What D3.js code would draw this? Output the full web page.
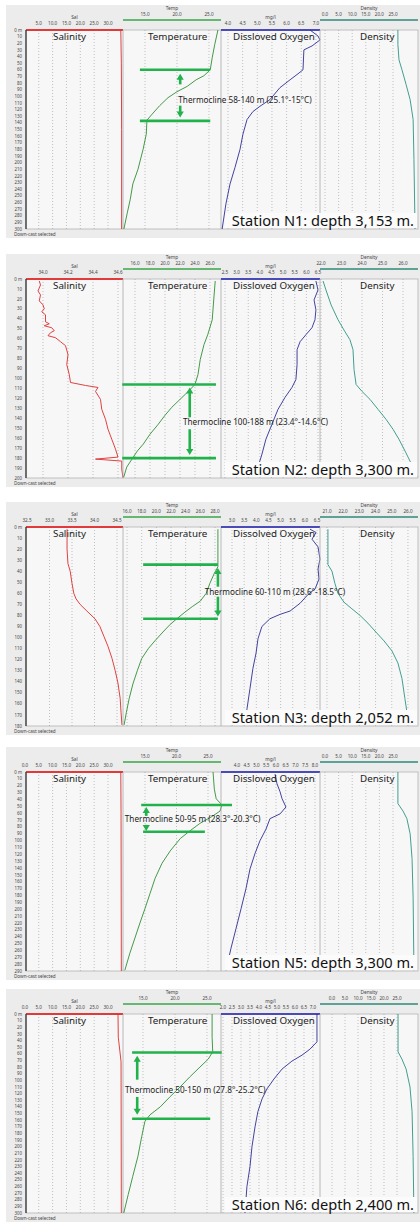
<!DOCTYPE html>
<html>
<head>
<meta charset="utf-8">
<script src="https://cdn.jsdelivr.net/npm/d3@7"></script>
<style>
body { margin: 0; background: #fff; }
svg { display: block; font-family: "Noto Sans", "Open Sans", sans-serif; }
</style>
</head>
<body>
<div id="main"></div>
<script>
// stations
var stations = ["N1", "N2", "N3", "N5", "N6"];
var stationDepths = ["3,153", "3,300", "2,052", "3,300", "2,400"];
var maxDepth = [300, 200, 180, 290, 300];
var oxygenTitles = ["Dissloved Oxygen", "Dissloved Oxygen", "Dissolved Oxygen", "Dissloved Oxygen", "Dissloved Oxygen"];

// axis domains (value at left / right edge of each column) and tick values
var salDomains = [[0.4, 35.4], [33.864, 34.64], [32.478, 34.633], [0.4, 35.4], [0.4, 35.4]];
var salTicks = [[5, 10, 15, 20, 25, 30], [34.0, 34.2, 34.4, 34.6], [32.5, 33.0, 33.5, 34.0, 34.5], [0, 5, 10, 15, 20, 25, 30], [0, 5, 10, 15, 20, 25, 30]];
var tempDomains = [[11.56, 26.88], [14.4, 27.47], [15.45, 28.82], [11.51, 27.06], [11.88, 27.19]];
var tempTicks = [[15, 20, 25], [16, 18, 20, 22, 24, 26], [16, 18, 20, 22, 24, 26, 28], [15, 20, 25], [15, 20, 25]];
var oxyDomains = [[3.761, 7.14], [2.328, 6.586], [2.547, 6.621], [3.179, 8.256], [1.889, 7.389]];
var oxyTicks = [
    [4.0, 4.5, 5.0, 5.5, 6.0, 6.5, 7.0],
    [2.5, 3.0, 3.5, 4.0, 4.5, 5.0, 5.5, 6.0, 6.5],
    [3.0, 3.5, 4.0, 4.5, 5.0, 5.5, 6.0, 6.5],
    [4.0, 4.5, 5.0, 5.5, 6.0, 6.5, 7.0, 7.5, 8.0],
    [2.0, 2.5, 3.0, 3.5, 4.0, 4.5, 5.0, 5.5, 6.0, 6.5, 7.0]
];
var densDomains = [[-1.84, 34.19], [21.95, 26.73], [20.57, 26.62], [-1.84, 34.19], [-4.62, 33.08]];
var densTicks = [[0, 5, 10, 15, 20, 25], [22, 23, 24, 25, 26], [21, 22, 23, 24, 25, 26], [0, 5, 10, 15, 20, 25], [0, 5, 10, 15, 20, 25]];

// thermocline notes: [depth, temp from, temp to] for both lines, arrows [temp, up from, up to, down from, down to], text [temp, depth]
var thermoLabels = ["Thermocline 58-140 m (25.1°-15°C)", "Thermocline 100-188 m (23.4°-14.6°C)", "Thermocline 60-110 m (28.6°-18.5°C)", "Thermocline 50-95 m (28.3°-20.3°C)", "Thermocline 50-150 m (27.8°-25.2°C)"];
var thermoTop = [[60, 14.2, 25.2], [106, 14.3, 26.8], [34, 18.2, 28.4], [48, 14.4, 28.8], [58, 13.3, 27.3]];
var thermoBottom = [[137, 14.2, 25.2], [180, 14.3, 26.8], [83, 18.2, 28.4], [87, 14.7, 24.5], [158, 13.3, 25.5]];
var thermoArrows = [[20.5, 82, 66, 114, 132], [23.3, 139, 109, 151, 177], [28.4, 54, 37, 63, 81], [15.2, 64, 51, 77, 86], [14.1, 99, 63, 125, 152]];
var thermoText = [[20.2, 105], [22.4, 144], [26.6, 59], [11.8, 68], [12.2, 114]];

// profiles: [depth m, value]
var n1Sal = [[0, 34.6], [50, 34.8], [150, 34.9], [300, 34.9]];
var n1Temp = [[0, 26.4], [22, 25.9], [42, 25.5], [60, 25.2], [69, 24.2], [75, 23.0], [85, 21.6], [93, 20.0], [102, 18.6], [114, 17.3], [127, 16.1], [136, 15.3], [157, 15.2], [180, 14.7], [210, 13.9], [232, 13.1], [255, 12.7], [277, 12.2], [300, 11.7]];
var n1Oxy = [[0, 6.80], [9, 7.07], [15, 7.14], [24, 6.87], [30, 6.59], [60, 6.56], [66, 6.39], [75, 6.12], [87, 5.77], [105, 5.43], [115, 5.09], [123, 4.85], [135, 4.65], [157, 4.51], [180, 4.41], [207, 4.24], [232, 4.07], [262, 3.93], [300, 3.80]];
var n1Dens = [[0, 26.8], [22, 26.8], [45, 27.2], [60, 28.3], [82, 29.8], [105, 31.3], [135, 32.4], [195, 32.7], [300, 33.1]];

var n2Sal = [[2, 33.97], [6, 33.98], [12, 33.96], [16, 33.98], [22, 33.97], [26, 34.00], [30, 34.01], [33, 33.99], [36, 34.02], [43, 34.02], [45, 34.05], [47, 34.01], [49, 34.07], [52, 34.09], [54, 34.06], [57, 34.04], [59, 34.10], [63, 34.14], [67, 34.18], [76, 34.20], [86, 34.19], [96, 34.21], [104, 34.22], [107, 34.34], [109, 34.44], [113, 34.42], [121, 34.46], [131, 34.47], [141, 34.50], [151, 34.52], [161, 34.55], [171, 34.58], [179, 34.60], [181, 34.42], [183, 34.63], [191, 34.63], [200, 34.64]];
var n2Temp = [[2, 26.7], [21, 26.5], [41, 26.3], [56, 25.7], [66, 25.2], [81, 24.7], [96, 24.4], [106, 24.0], [113, 23.1], [121, 22.0], [129, 20.9], [137, 20.0], [146, 19.1], [156, 18.0], [166, 17.1], [173, 16.3], [181, 15.6], [189, 14.9], [199, 14.5]];
var n2Oxy = [[2, 6.41], [11, 6.50], [21, 6.33], [31, 6.41], [41, 6.37], [49, 6.24], [56, 5.98], [63, 5.73], [71, 5.60], [86, 5.60], [101, 5.55], [109, 5.38], [119, 5.08], [131, 4.78], [146, 4.52], [161, 4.26], [176, 4.09], [189, 3.92], [199, 3.79]];
var n2Dens = [[2, 22.10], [11, 22.24], [26, 22.49], [41, 22.83], [53, 23.17], [61, 23.41], [71, 23.56], [91, 23.61], [106, 23.71], [113, 24.00], [121, 24.39], [131, 24.78], [141, 25.17], [151, 25.51], [161, 25.80], [173, 26.10], [183, 26.34], [191, 26.54], [199, 26.68]];

var n3Sal = [[2, 33.39], [20, 33.39], [33, 33.41], [40, 33.46], [51, 33.50], [60, 33.54], [65, 33.59], [70, 33.68], [76, 33.83], [83, 34.01], [90, 34.12], [99, 34.21], [108, 34.30], [119, 34.39], [130, 34.46], [141, 34.52], [155, 34.57], [168, 34.59], [179, 34.61]];
var n3Temp = [[2, 28.4], [15, 28.4], [36, 28.4], [42, 27.9], [51, 27.3], [60, 26.8], [67, 26.0], [72, 24.9], [77, 23.9], [83, 22.8], [88, 21.9], [95, 20.9], [103, 19.8], [110, 18.9], [119, 18.0], [130, 17.4], [142, 16.8], [155, 16.3], [168, 15.9], [179, 15.6]];
var n3Oxy = [[2, 6.21], [5, 6.46], [11, 6.29], [18, 6.54], [29, 6.62], [38, 6.54], [47, 6.58], [56, 6.42], [61, 6.13], [69, 5.80], [76, 5.39], [79, 4.98], [83, 4.56], [90, 4.23], [101, 4.07], [114, 3.99], [128, 3.86], [146, 3.74], [164, 3.62], [179, 3.53]];
var n3Dens = [[2, 21.06], [34, 21.06], [40, 21.31], [51, 21.49], [60, 21.68], [68, 22.05], [74, 22.54], [80, 23.04], [87, 23.53], [95, 24.02], [103, 24.52], [112, 25.01], [123, 25.38], [137, 25.63], [155, 25.81], [168, 25.94], [179, 26.0]];

var n5Sal = [[0, 34.6], [60, 34.7], [290, 34.8]];
var n5Temp = [[0, 25.8], [25, 26.0], [39, 26.3], [48, 27.2], [57, 26.9], [65, 25.6], [75, 23.7], [86, 22.1], [97, 20.6], [115, 19.0], [133, 17.7], [155, 16.6], [177, 15.8], [199, 15.0], [220, 14.2], [242, 13.4], [264, 12.6], [289, 11.8]];
var n5Oxy = [[3, 5.95], [17, 6.05], [29, 6.21], [39, 6.31], [51, 6.51], [61, 6.21], [68, 5.69], [83, 5.49], [100, 5.18], [119, 4.92], [141, 4.67], [170, 4.46], [199, 4.21], [228, 3.95], [257, 3.69], [289, 3.44]];
var n5Dens = [[0, 26.8], [46, 26.8], [57, 28.7], [68, 30.1], [90, 31.3], [126, 32.0], [184, 32.4], [289, 32.7]];

var n6Sal = [[0, 33.6], [35, 33.7], [57, 34.3], [72, 34.7], [300, 34.8]];
var n6Temp = [[0, 25.8], [35, 25.8], [57, 25.9], [68, 25.2], [80, 23.9], [95, 22.3], [110, 20.8], [125, 19.2], [140, 17.7], [152, 16.1], [162, 15.3], [185, 14.8], [215, 14.2], [245, 13.4], [272, 12.7], [300, 12.0]];
var n6Oxy = [[0, 7.22], [42, 7.22], [53, 6.83], [62, 6.39], [71, 5.83], [83, 5.28], [98, 4.83], [113, 4.44], [128, 4.17], [147, 3.94], [170, 3.78], [200, 3.61], [230, 3.50], [260, 3.33], [300, 3.22]];
var n6Dens = [[0, 25.4], [57, 25.4], [68, 26.9], [83, 28.5], [110, 30.0], [147, 30.8], [215, 31.2], [300, 31.5]];

var salProfiles = [n1Sal, n2Sal, n3Sal, n5Sal, n6Sal];
var tempProfiles = [n1Temp, n2Temp, n3Temp, n5Temp, n6Temp];
var oxyProfiles = [n1Oxy, n2Oxy, n3Oxy, n5Oxy, n6Oxy];
var densProfiles = [n1Dens, n2Dens, n3Dens, n5Dens, n6Dens];

var ctx = {
    w: 420,
    h: 1222,
    tops: [30, 279, 527, 772, 1014],
    cols: [26, 123, 221, 320, 418],
    plotH: 199,
    thermo: "#22b24c"
};

var drawArrow = function(g, x, y0, y1){
    var dir = y1 < y0 ? -1 : 1;
    g.append("line")
     .attr("x1", x).attr("x2", x)
     .attr("y1", y0).attr("y2", y1 - dir * 5)
     .attr("stroke", ctx.thermo).attr("stroke-width", 2.6);
    g.append("path")
     .attr("d", "M" + (x - 3.6) + "," + (y1 - dir * 6) + "L" + (x + 3.6) + "," + (y1 - dir * 6) + "L" + x + "," + y1 + "Z")
     .attr("fill", ctx.thermo);
};

var drawPanel = function(svg, i){
    var top = ctx.tops[i];
    var bottom = top + ctx.plotH;
    var c = ctx.cols;
    var g = svg.append("g");

    var y = d3.scaleLinear().domain([0, maxDepth[i]]).range([top, bottom]);

    // window + plot background
    g.append("rect").attr("x", 6).attr("y", top - 25).attr("width", 414).attr("height", ctx.plotH + 34).attr("fill", "#ececec");
    g.append("rect").attr("x", c[0]).attr("y", top).attr("width", c[4] - c[0]).attr("height", ctx.plotH)
     .attr("fill", "#f7f7f7").attr("stroke", "#b4b4b4").attr("stroke-width", 0.8);

    var columns = [
        {domain: salDomains[i], ticks: salTicks[i], data: salProfiles[i], name: "Sal", title: "Salinity", color: "#dd2c2c", head: "#e23a3a", lineY: top, labelY: top - 5, nameY: top - 11, titleDx: 27},
        {domain: tempDomains[i], ticks: tempTicks[i], data: tempProfiles[i], name: "Temp", title: "Temperature", color: "#2f8f35", head: "#3aa64a", lineY: top - 10, labelY: top - 14, nameY: top - 20, titleDx: 25},
        {domain: oxyDomains[i], ticks: oxyTicks[i], data: oxyProfiles[i], name: "mg/l", title: oxygenTitles[i], color: "#2e2e96", head: "#4a4ab8", lineY: top, labelY: top - 5, nameY: top - 11, titleDx: 12},
        {domain: densDomains[i], ticks: densTicks[i], data: densProfiles[i], name: "Density", title: "Density", color: "#2c9483", head: "#2e8a78", lineY: top - 10, labelY: top - 14, nameY: top - 20, titleDx: 40}
    ];

    var scales = [];
    columns.forEach(function(col, k){
        var x = d3.scaleLinear().domain(col.domain).range([c[k], c[k + 1]]);
        scales.push(x);

        // dotted grid at ticks
        g.append("g").selectAll("line")
         .data(col.ticks.filter(function(t){ return x(t) > c[k] + 1 && x(t) < c[k + 1] - 1; }))
         .enter().append("line")
         .attr("x1", function(t){ return x(t); }).attr("x2", function(t){ return x(t); })
         .attr("y1", top).attr("y2", bottom)
         .attr("stroke", "#9a9a9a").attr("stroke-width", 0.6).attr("stroke-dasharray", "1,2");

        // column separator
        if (k > 0){
            g.append("line").attr("x1", c[k]).attr("x2", c[k]).attr("y1", top).attr("y2", bottom)
             .attr("stroke", "#a8a8a8").attr("stroke-width", 0.8);
        }

        // header: tick labels, name, coloured line
        g.append("g").selectAll("text")
         .data(col.ticks)
         .enter().append("text")
         .attr("x", function(t){ return x(t); })
         .attr("y", col.labelY)
         .attr("text-anchor", "middle")
         .attr("font-size", 4.6)
         .attr("fill", "#444")
         .text(d3.format(".1f"));
        g.append("text").attr("x", (c[k] + c[k + 1]) / 2).attr("y", col.nameY)
         .attr("text-anchor", "middle").attr("font-size", 4.8).attr("fill", "#444").text(col.name);
        g.append("line").attr("x1", c[k]).attr("x2", c[k + 1]).attr("y1", col.lineY).attr("y2", col.lineY)
         .attr("stroke", col.head).attr("stroke-width", col.lineY === top ? 2 : 1.4);

        // profile
        var line = d3.line()
                     .x(function(d){ return x(d[1]); })
                     .y(function(d){ return y(d[0]); });
        g.append("path").datum(col.data)
         .attr("d", line)
         .attr("fill", "none")
         .attr("stroke", col.color)
         .attr("stroke-width", 0.9);

        // column title
        g.append("text").attr("x", c[k] + col.titleDx).attr("y", top + 10)
         .attr("font-size", 9.8).attr("fill", "#222").text(col.title);
    });

    // depth axis
    g.append("line").attr("x1", c[0]).attr("x2", c[0]).attr("y1", top).attr("y2", bottom)
     .attr("stroke", "#333").attr("stroke-width", 1.3);
    g.append("g").selectAll("text")
     .data(d3.range(0, maxDepth[i] + 1, 10))
     .enter().append("text")
     .attr("x", 22)
     .attr("y", function(d){ return y(d) + 1.6; })
     .attr("text-anchor", "end")
     .attr("font-size", 4.4)
     .attr("fill", "#444")
     .text(function(d){ return d === 0 ? "0 m" : d; });

    g.append("text").attr("x", 14).attr("y", bottom + 6.5).attr("font-size", 4.6).attr("fill", "#444").text("Down-cast selected");

    // thermocline annotation (drawn on the temperature scale)
    var xt = scales[1];
    [thermoTop[i], thermoBottom[i]].forEach(function(t){
        g.append("line").attr("x1", xt(t[1])).attr("x2", xt(t[2])).attr("y1", y(t[0])).attr("y2", y(t[0]))
         .attr("stroke", ctx.thermo).attr("stroke-width", 2.6);
    });
    var a = thermoArrows[i];
    drawArrow(g, xt(a[0]), y(a[1]), y(a[2]));
    drawArrow(g, xt(a[0]), y(a[3]), y(a[4]));
    g.append("text").attr("x", xt(thermoText[i][0])).attr("y", y(thermoText[i][1]) + 3)
     .attr("font-size", 8.2).attr("fill", "#222").text(thermoLabels[i]);

    // station label
    g.append("rect").attr("x", 225).attr("y", bottom - 16).attr("width", 192).attr("height", 15)
     .attr("fill", "#fbfbfb");
    g.append("text").attr("x", 414).attr("y", bottom - 3)
     .attr("text-anchor", "end").attr("font-size", 14.6).attr("fill", "#111")
     .text("Station " + stations[i] + ": depth " + stationDepths[i] + " m.");
};

var createViz = function(){
    var svgEl = d3.select("#main").append("svg")
                  .attr("width", ctx.w)
                  .attr("height", ctx.h);
    svgEl.append("rect").attr("width", ctx.w).attr("height", ctx.h).attr("fill", "#fff");
    for (var i = 0; i < stations.length; i++){
        drawPanel(svgEl, i);
    }
};

createViz();
</script>
</body>
</html>
